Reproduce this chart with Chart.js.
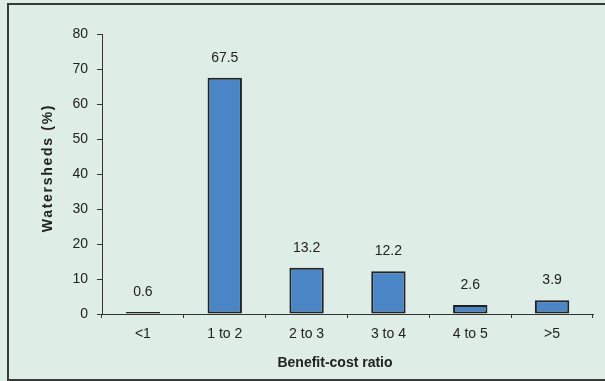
<!DOCTYPE html>
<html>
<head>
<meta charset="utf-8">
<script src="https://cdn.jsdelivr.net/npm/chart.js@4/dist/chart.umd.min.js"></script>
<style>
  html, body { margin: 0; padding: 0; background: #deede6; overflow: hidden; }
  #wrap { width: 605px; height: 381px; position: relative; }
  canvas { display: block; }
</style>
</head>
<body>
<div id="wrap"><canvas id="c" width="605" height="381"></canvas></div>
<script>
// Share of watersheds by benefit-cost ratio class
const categories = ['<1', '1 to 2', '2 to 3', '3 to 4', '4 to 5', '>5'];
const watershedShare = [0.6, 67.5, 13.2, 12.2, 2.6, 3.9];
const yTicks = [0, 10, 20, 30, 40, 50, 60, 70, 80];

const FONT = 'Arial, "Liberation Sans", Helvetica, sans-serif';
const INK = '#222222';
const LINE = '#333333';

// Panel background, frame, axis titles and value labels
const decor = {
  id: 'decor',
  beforeDraw(chart) {
    const ctx = chart.ctx;
    const w = chart.width;
    ctx.save();
    ctx.fillStyle = '#deede6';
    ctx.fillRect(0, 0, w, chart.height);
    // open frame: top, left and bottom edges
    ctx.fillStyle = '#3a3a3a';
    ctx.fillRect(7, 3, w - 7, 2);
    ctx.fillRect(7, 3, 2, 377);
    ctx.fillRect(7, 379, w - 7, 2);
    ctx.restore();
  },
  afterDraw(chart) {
    const ctx = chart.ctx;
    ctx.save();
    ctx.fillStyle = INK;
    ctx.textAlign = 'center';
    ctx.textBaseline = 'middle';

    // value labels above each bar
    ctx.font = '14px ' + FONT;
    const meta = chart.getDatasetMeta(0);
    meta.data.forEach((bar, i) => {
      ctx.fillText(String(watershedShare[i]), bar.x, bar.y - 20);
    });

    // x-axis title
    ctx.font = 'bold 14px ' + FONT;
    ctx.fillText('Benefit-cost ratio', 335, 363);

    // y-axis title (rotated)
    ctx.translate(48, 168);
    ctx.rotate(-Math.PI / 2);
    ctx.letterSpacing = '1.7px';
    ctx.fillText('Watersheds (%)', 0, 0);
    ctx.restore();
  }
};

new Chart(document.getElementById('c'), {
  type: 'bar',
  data: {
    labels: categories,
    datasets: [{
      data: watershedShare,
      backgroundColor: '#4a86c6',
      borderColor: '#222222',
      borderWidth: 2,
      borderSkipped: false,
      categoryPercentage: 1.0,
      barPercentage: 0.42
    }]
  },
  options: {
    responsive: false,
    animation: false,
    devicePixelRatio: 1,
    layout: { padding: { top: 34, right: 12, left: 0, bottom: 0 } },
    plugins: {
      legend: { display: false },
      tooltip: { enabled: false },
      title: { display: false }
    },
    scales: {
      x: {
        type: 'category',
        offset: true,
        grid: {
          offset: true,
          drawOnChartArea: false,
          drawTicks: true,
          tickLength: 4,
          color: LINE,
          lineWidth: 1
        },
        border: { display: true, color: LINE, width: 1 },
        ticks: {
          color: INK,
          padding: 8,
          font: { family: FONT, size: 14 },
          maxRotation: 0
        },
        afterFit(scale) { scale.height = 67; }
      },
      y: {
        min: 0,
        max: 80,
        afterBuildTicks(scale) { scale.ticks = yTicks.map(v => ({ value: v })); },
        grid: {
          drawOnChartArea: false,
          drawTicks: true,
          tickLength: 5,
          color: LINE,
          lineWidth: 1
        },
        border: { display: true, color: LINE, width: 1 },
        ticks: {
          color: INK,
          padding: 9,
          font: { family: FONT, size: 14 }
        },
        afterFit(scale) { scale.width = 102; }
      }
    }
  },
  plugins: [decor]
});
</script>
</body>
</html>
